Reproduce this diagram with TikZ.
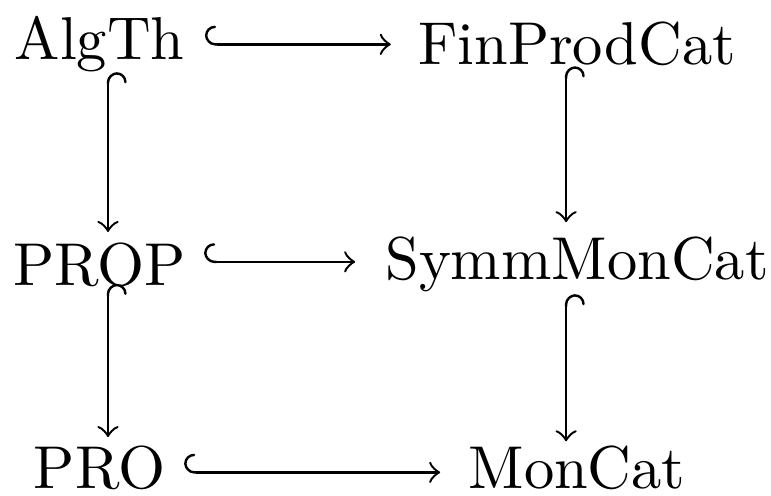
\documentclass[tikz,border=0pt]{standalone}
\usetikzlibrary{arrows}
\begin{document}
\begin{tikzpicture}[x=1pt,y=1pt,
  obj/.style={inner sep=0pt, outer sep=0pt},
  inc/.style={right hook->, line width=0.4pt}]
\useasboundingbox (0,0) rectangle (127.44,81.98);
\node[obj] (AlgTh) at (16.45,74.65) {AlgTh};
\node[obj] (FinProdCat) at (95.37,74.65) {FinProdCat};
\node[obj] (PROP) at (16.45,38.2) {PROP};
\node[obj] (SymmMonCat) at (95.37,38.2) {SymmMonCat};
\node[obj] (PRO) at (16.45,4.6) {PRO};
\node[obj] (MonCat) at (95.37,4.6) {MonCat};
\draw[inc] ([xshift=3.4pt]AlgTh.east) -- ([xshift=-4.5pt]FinProdCat.west);
\draw[inc] ([xshift=3.05pt,yshift=0.5pt]PROP.east) -- ([xshift=-5pt,yshift=0.5pt]SymmMonCat.west);
\draw[inc] ([xshift=3.15pt,yshift=-0.7pt]PRO.east) -- ([xshift=-4.7pt,yshift=-0.7pt]MonCat.west);
\draw[inc] ([xshift=1.4pt]AlgTh.south) -- ([xshift=1.4pt,yshift=1.8pt]PROP.north);
\draw[inc] ([xshift=1.4pt,yshift=0.5pt]PROP.south) -- ([xshift=1.4pt,yshift=1.5pt]PRO.north);
\draw[inc] ([xshift=-1.8pt]FinProdCat.south) -- ([xshift=-1.8pt,yshift=2.5pt]SymmMonCat.north);
\draw[inc] ([xshift=-1.8pt,yshift=-0.3pt]SymmMonCat.south) -- ([xshift=-1.8pt,yshift=0.8pt]MonCat.north);
\end{tikzpicture}
\end{document}
